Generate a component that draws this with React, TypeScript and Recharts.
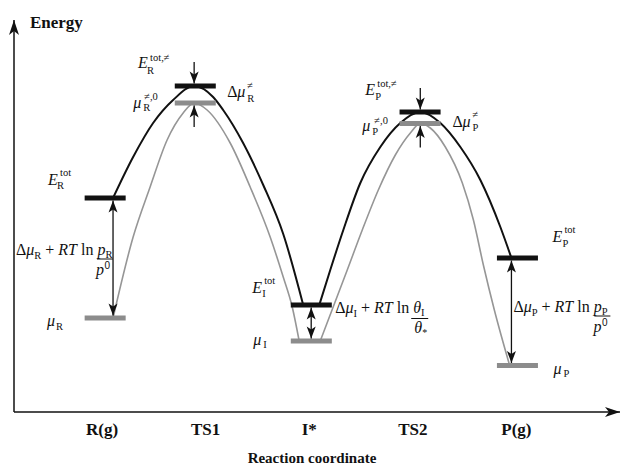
import React from 'react';
import { ComposedChart, Line, XAxis, YAxis, ReferenceLine, ReferenceDot } from 'recharts';

const SERIF = '"Liberation Serif", "Times New Roman", Times, serif';
const INK = '#111';
const GREY = '#969696';

// Reaction coordinate stages (tick labels at 1..5)
const stages = ['R(g)', 'TS1', 'I*', 'TS2', 'P(g)'];
const stageTicks = [1, 2, 3, 4, 5];
// Level bars: centre on the reaction coordinate, total energy and chemical potential
const barCentre = [1.03, 1.9, 3.02, 4.07, 5.01];
const arrowX = [1.106, 1.889, 3.019, 4.072, 4.952];
const eTot = [21.4, 32.6, 10.7, 30.0, 15.4];
const muLevel = [9.4, 30.9, 7.1, 28.85, 4.65];
const BAR_HALF = 0.198;
const TS_ARROW = 2.4;
const TIP = 0.25;

// Energy profiles (black = total energy, grey = chemical potential)
const blackTS1 = [
  { x: 1.106, v: 21.4 }, { x: 1.3, v: 25.5 }, { x: 1.493, v: 28.9 }, { x: 1.686, v: 31.2 },
  { x: 1.889, v: 32.6 }, { x: 2.072, v: 31.5 }, { x: 2.169, v: 30.2 }, { x: 2.362, v: 26.9 },
  { x: 2.556, v: 22.7 }, { x: 2.749, v: 17.8 }, { x: 2.942, v: 10.7 },
];
const greyTS1 = [
  { x: 1.106, v: 9.4 }, { x: 1.3, v: 17.5 }, { x: 1.464, v: 22.5 }, { x: 1.628, v: 27.2 },
  { x: 1.783, v: 29.9 }, { x: 1.889, v: 30.9 }, { x: 2.014, v: 30.2 }, { x: 2.237, v: 26.9 },
  { x: 2.43, v: 22.5 }, { x: 2.623, v: 17.5 }, { x: 2.749, v: 13.5 }, { x: 2.836, v: 10.5 },
  { x: 2.903, v: 7.1 },
];
const blackTS2 = [
  { x: 3.097, v: 10.7 }, { x: 3.203, v: 14.2 }, { x: 3.329, v: 18.2 }, { x: 3.493, v: 22.9 },
  { x: 3.686, v: 26.5 }, { x: 3.879, v: 28.9 }, { x: 4.072, v: 30.0 }, { x: 4.266, v: 28.9 },
  { x: 4.459, v: 26.5 }, { x: 4.652, v: 23.2 }, { x: 4.845, v: 18.5 }, { x: 4.952, v: 15.4 },
];
const greyTS2 = [
  { x: 3.106, v: 7.1 }, { x: 3.367, v: 14.2 }, { x: 3.512, v: 18.2 }, { x: 3.667, v: 22.2 },
  { x: 3.831, v: 25.7 }, { x: 3.976, v: 27.9 }, { x: 4.072, v: 28.85 }, { x: 4.169, v: 28.4 },
  { x: 4.314, v: 26.5 }, { x: 4.478, v: 22.9 }, { x: 4.585, v: 19.2 }, { x: 4.681, v: 14.7 },
  { x: 4.787, v: 10.2 }, { x: 4.935, v: 4.65 },
];

type Piece = { t: string; dx?: number; dy?: number; s?: number; i?: boolean; b?: boolean; f?: string };

const piece = (x: number, y: number, p: Piece, k: number) => (
  <text
    key={k}
    x={x + (p.dx ?? 0)}
    y={y + (p.dy ?? 0)}
    fontFamily={p.f ?? SERIF}
    fontSize={p.s ?? 16}
    fontStyle={p.i ? 'italic' : 'normal'}
    fontWeight={p.b ? 'bold' : 'normal'}
    fill={INK}
  >
    {p.t}
  </text>
);

const mathShape = (pieces: Piece[]) => (props: any) => (
  <g>{pieces.map((p, k) => piece(props.cx, props.cy, p, k))}</g>
);

const SUB = 10.5;

const gasFormula = (sub: string) => (props: any) => {
  const { cx, cy } = props;
  return (
    <g>
      <text x={cx} y={cy} fontSize={16} fontFamily={SERIF} fill={INK}>
        <tspan>Δ</tspan>
        <tspan fontStyle="italic">μ</tspan>
        <tspan fontSize={SUB} dy={4}>{sub}</tspan>
        <tspan dy={-4}> + </tspan>
        <tspan fontStyle="italic">RT</tspan>
        <tspan> ln </tspan>
        <tspan fontStyle="italic">p</tspan>
        <tspan fontSize={SUB} dy={3}>{sub}</tspan>
      </text>
      <line x1={cx + 81} x2={cx + 97} y1={cy + 4} y2={cy + 4} stroke={INK} strokeWidth={1} />
      <text x={cx + 80} y={cy + 20} fontSize={16} fontStyle="italic" fontFamily={SERIF} fill={INK}>p</text>
      <text x={cx + 88.5} y={cy + 14} fontSize={10} fontFamily='"Liberation Sans", Arial, sans-serif' fill={INK}>0</text>
    </g>
  );
};

const surfFormula = (props: any) => {
  const { cx, cy } = props;
  return (
    <g>
      <text x={cx} y={cy} fontSize={16} fontFamily={SERIF} fill={INK}>
        <tspan>Δ</tspan>
        <tspan fontStyle="italic">μ</tspan>
        <tspan fontSize={SUB} dy={4}>I</tspan>
        <tspan dy={-4}> + </tspan>
        <tspan fontStyle="italic">RT</tspan>
        <tspan> ln </tspan>
        <tspan fontStyle="italic">θ</tspan>
        <tspan fontSize={SUB} dy={3}>I</tspan>
      </text>
      <line x1={cx + 76} x2={cx + 93} y1={cy + 5.5} y2={cy + 5.5} stroke={INK} strokeWidth={1} />
      <text x={cx + 79} y={cy + 20} fontSize={16} fontStyle="italic" fontFamily={SERIF} fill={INK}>θ</text>
      <text x={cx + 87} y={cy + 23} fontSize={10} fontFamily={SERIF} fill={INK}>*</text>
    </g>
  );
};

const headUp = (p: any) => (
  <path d={`M${p.cx},${p.cy} L${p.cx - 4.5},${p.cy + 12} L${p.cx},${p.cy + 9} L${p.cx + 4.5},${p.cy + 12} Z`} fill={INK} />
);
const headDown = (p: any) => (
  <path d={`M${p.cx},${p.cy} L${p.cx - 4.5},${p.cy - 12} L${p.cx},${p.cy - 9} L${p.cx + 4.5},${p.cy - 12} Z`} fill={INK} />
);
const axisHeadUp = (p: any) => (
  <path d={`M${p.cx},${p.cy} L${p.cx - 5},${p.cy + 15} L${p.cx},${p.cy + 11} L${p.cx + 5},${p.cy + 15} Z`} fill={INK} />
);
const axisHeadRight = (p: any) => (
  <path d={`M${p.cx},${p.cy} L${p.cx - 15},${p.cy - 5} L${p.cx - 11},${p.cy} L${p.cx - 15},${p.cy + 5} Z`} fill={INK} />
);

const X_DOMAIN: [number, number] = [0.15, 6.0];
const Y_DOMAIN: [number, number] = [0, 39.2];

const doubleArrowStages = [0, 2, 4];
const tsStages = [1, 3];

export default function App() {
  return (
    <div style={{ position: 'absolute', left: 0, top: 0, width: 624, height: 468, background: '#fff' }}>
      <ComposedChart width={624} height={468} margin={{ top: 20, right: 4, bottom: 0, left: 14 }}>
        <XAxis
          type="number"
          dataKey="x"
          domain={X_DOMAIN}
          ticks={stageTicks}
          tickFormatter={(v: number) => stages[v - 1] ?? ''}
          tickLine={false}
          tickMargin={5}
          height={56}
          axisLine={{ stroke: INK, strokeWidth: 1.5 }}
          tick={{ fill: INK, fontSize: 17, fontWeight: 'bold', fontFamily: SERIF }}
          label={{
            value: 'Reaction coordinate',
            position: 'insideBottom',
            offset: 5,
            dx: -5,
            fill: INK,
            fontSize: 15,
            fontWeight: 'bold',
            fontFamily: SERIF,
          }}
        />
        <YAxis type="number" domain={Y_DOMAIN} width={0} tick={false} tickLine={false} axisLine={false} />

        <ReferenceLine x={X_DOMAIN[0]} stroke={INK} strokeWidth={1.5} />
        <ReferenceDot x={X_DOMAIN[0]} y={Y_DOMAIN[1]} shape={axisHeadUp} ifOverflow="visible" />
        <ReferenceDot x={X_DOMAIN[1]} y={Y_DOMAIN[0]} shape={axisHeadRight} ifOverflow="visible" />

        <Line data={greyTS1} dataKey="v" type="monotone" stroke={GREY} strokeWidth={1.6} dot={false} isAnimationActive={false} />
        <Line data={greyTS2} dataKey="v" type="monotone" stroke={GREY} strokeWidth={1.6} dot={false} isAnimationActive={false} />
        <Line data={blackTS1} dataKey="v" type="monotone" stroke={INK} strokeWidth={2} dot={false} isAnimationActive={false} />
        <Line data={blackTS2} dataKey="v" type="monotone" stroke={INK} strokeWidth={2} dot={false} isAnimationActive={false} />

        {stages.map((s, i) => (
          <ReferenceLine
            key={'mu' + s}
            segment={[{ x: barCentre[i] - BAR_HALF, y: muLevel[i] }, { x: barCentre[i] + BAR_HALF, y: muLevel[i] }]}
            stroke="#8c8c8c"
            strokeWidth={5}
          />
        ))}
        {stages.map((s, i) => (
          <ReferenceLine
            key={'e' + s}
            segment={[{ x: barCentre[i] - BAR_HALF, y: eTot[i] }, { x: barCentre[i] + BAR_HALF, y: eTot[i] }]}
            stroke={INK}
            strokeWidth={5}
          />
        ))}

        {doubleArrowStages.map((i) => (
          <ReferenceLine
            key={'da' + i}
            segment={[{ x: arrowX[i], y: muLevel[i] + TIP }, { x: arrowX[i], y: eTot[i] - TIP }]}
            stroke={INK}
            strokeWidth={1.3}
          />
        ))}
        {doubleArrowStages.map((i) => (
          <ReferenceDot key={'dau' + i} x={arrowX[i]} y={eTot[i] - TIP} shape={headUp} />
        ))}
        {doubleArrowStages.map((i) => (
          <ReferenceDot key={'dad' + i} x={arrowX[i]} y={muLevel[i] + TIP} shape={headDown} />
        ))}

        {tsStages.map((i) => (
          <ReferenceLine
            key={'ta' + i}
            segment={[{ x: arrowX[i], y: eTot[i] + TS_ARROW }, { x: arrowX[i], y: eTot[i] + TIP }]}
            stroke={INK}
            strokeWidth={1.3}
          />
        ))}
        {tsStages.map((i) => (
          <ReferenceDot key={'tah' + i} x={arrowX[i]} y={eTot[i] + TIP} shape={headDown} />
        ))}
        {tsStages.map((i) => (
          <ReferenceLine
            key={'ba' + i}
            segment={[{ x: arrowX[i], y: muLevel[i] - TS_ARROW }, { x: arrowX[i], y: muLevel[i] - TIP }]}
            stroke={INK}
            strokeWidth={1.3}
          />
        ))}
        {tsStages.map((i) => (
          <ReferenceDot key={'bah' + i} x={arrowX[i]} y={muLevel[i] - TIP} shape={headUp} />
        ))}

        {/* Axis title */}
        <ReferenceDot x={0.304} y={38.4} shape={mathShape([{ t: 'Energy', b: true, s: 17 }])} />

        {/* R side */}
        <ReferenceDot x={1.348} y={34.4} shape={mathShape([{ t: 'E', i: true }, { t: 'tot,≠', dx: 12, dy: -7, s: SUB }, { t: 'R', dx: 9, dy: 6, s: SUB }])} />
        <ReferenceDot x={1.3} y={30.4} shape={mathShape([{ t: 'μ', i: true }, { t: '≠,0', dx: 11, dy: -8, s: SUB }, { t: 'R', dx: 10, dy: 3, s: SUB }])} />
        <ReferenceDot x={2.208} y={31.5} shape={mathShape([{ t: 'Δ' }, { t: 'μ', i: true, dx: 10 }, { t: '≠', dx: 20, dy: -8, s: SUB }, { t: 'R', dx: 20, dy: 5, s: SUB }])} />
        <ReferenceDot x={0.478} y={22.7} shape={mathShape([{ t: 'E', i: true }, { t: 'tot', dx: 12, dy: -9, s: SUB }, { t: 'R', dx: 9, dy: 4, s: SUB }])} />
        <ReferenceDot x={0.169} y={15.7} shape={gasFormula('R')} />
        <ReferenceDot x={0.469} y={8.6} shape={mathShape([{ t: 'μ', i: true }, { t: 'R', dx: 9, dy: 4, s: SUB }])} />

        {/* Intermediate */}
        <ReferenceDot x={2.449} y={11.9} shape={mathShape([{ t: 'E', i: true }, { t: 'tot', dx: 12, dy: -9, s: SUB }, { t: 'I', dx: 10, dy: 4, s: SUB }])} />
        <ReferenceDot x={2.459} y={6.7} shape={mathShape([{ t: 'μ', i: true }, { t: 'I', dx: 10, dy: 3, s: SUB }])} />
        <ReferenceDot x={3.251} y={9.9} shape={surfFormula} />

        {/* P side */}
        <ReferenceDot x={3.541} y={31.7} shape={mathShape([{ t: 'E', i: true }, { t: 'tot,≠', dx: 12, dy: -8, s: SUB }, { t: 'P', dx: 10, dy: 5, s: SUB }])} />
        <ReferenceDot x={3.512} y={28.1} shape={mathShape([{ t: 'μ', i: true }, { t: '≠,0', dx: 12, dy: -7, s: SUB }, { t: 'P', dx: 10, dy: 4, s: SUB }])} />
        <ReferenceDot x={4.382} y={28.5} shape={mathShape([{ t: 'Δ' }, { t: 'μ', i: true, dx: 10 }, { t: '≠', dx: 20, dy: -9, s: SUB }, { t: 'P', dx: 20, dy: 4, s: SUB }])} />
        <ReferenceDot x={5.348} y={17.0} shape={mathShape([{ t: 'E', i: true }, { t: 'tot', dx: 12, dy: -9, s: SUB }, { t: 'P', dx: 10, dy: 5, s: SUB }])} />
        <ReferenceDot x={4.971} y={10.0} shape={gasFormula('P')} />
        <ReferenceDot x={5.357} y={3.8} shape={mathShape([{ t: 'μ', i: true }, { t: 'P', dx: 10, dy: 3, s: SUB }])} />
      </ComposedChart>
    </div>
  );
}
